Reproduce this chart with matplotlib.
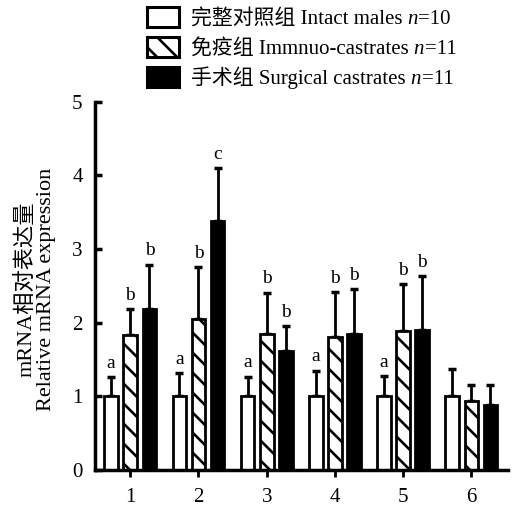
import matplotlib
matplotlib.use("Agg")
import matplotlib.pyplot as plt
import matplotlib.transforms as mtransforms
import numpy as np

DPI = 120
k = 100 / DPI  # keep pixel sizes as designed for 100 dpi

plt.rcParams['font.family'] = ['Liberation Serif', 'Noto Sans CJK SC']
plt.rcParams['hatch.linewidth'] = 1.9 * k

groups = ['1', '2', '3', '4', '5', '6']
series_names = ['完整对照组 Intact males',
                '免疫组 Immnuo-castrates',
                '手术组 Surgical castrates']
series_n = ['=10', '=11', '=11']
ylabel_lines = ['mRNA相对表达量', 'Relative mRNA expression']
intact = [1.0, 1.0, 1.0, 1.0, 1.0, 1.0]
intact_err = [0.26, 0.32, 0.27, 0.35, 0.28, 0.37]
immuno = [1.83, 2.05, 1.85, 1.80, 1.89, 0.94]
immuno_err = [0.35, 0.70, 0.56, 0.62, 0.63, 0.22]
surgical = [2.19, 3.38, 1.62, 1.85, 1.90, 0.89]
surgical_err = [0.60, 0.72, 0.34, 0.61, 0.73, 0.27]
letters_intact = ['a', 'a', 'a', 'a', 'a', '']
letters_immuno = ['b', 'b', 'b', 'b', 'b', '']
letters_surgical = ['b', 'c', 'b', 'b', 'b', '']

W, H = 517, 506
fig = plt.figure(figsize=(W / DPI, H / DPI), dpi=DPI)
ax = fig.add_axes([0.184, 0.071, 0.799, 0.728])

x = np.arange(1, len(groups) + 1)
w = 0.20
off = 0.28
styles = [dict(color='white', hatch=None),
          dict(color='white', hatch='\\\\'),
          dict(color='black', hatch=None)]
data = [(intact, intact_err, letters_intact),
        (immuno, immuno_err, letters_immuno),
        (surgical, surgical_err, letters_surgical)]
handles = []
for i, ((vals, errs, lets), st, name) in enumerate(zip(data, styles, series_names)):
    xs = x + (i - 1) * off
    b = ax.bar(xs, vals, width=w, color=st['color'], edgecolor='black',
               linewidth=2.0 * k, hatch=st['hatch'], label=name, zorder=2)
    handles.append(b)
    ax.errorbar(xs, vals, yerr=[np.zeros(len(errs)), errs], fmt='none',
                ecolor='black', elinewidth=2 * k, capsize=3 * k, capthick=2.5 * k,
                zorder=1)
    for xi, v, e, t in zip(xs, vals, errs, lets):
        if t:
            ax.text(xi, v + e + 0.07, t, ha='center', va='bottom', fontsize=14 * k)

ax.set_xlim(0.485, 6.54)
ax.set_ylim(0, 5)
ax.set_xticks(x)
ax.set_xticklabels(groups)
ax.set_yticks([0, 1, 2, 3, 4, 5])
for s in ['top', 'right']:
    ax.spines[s].set_visible(False)
for s in ['left', 'bottom']:
    ax.spines[s].set_linewidth(2.5 * k)
ax.tick_params(axis='y', direction='in', length=5 * k, width=2.5 * k,
               labelsize=15 * k, pad=9 * k)
ax.tick_params(axis='x', direction='out', length=5 * k, width=2 * k,
               labelsize=15 * k, pad=8 * k)

ident = mtransforms.IdentityTransform()
ycen = H - 289
fig.text(27, ycen, ylabel_lines[0], rotation=90, fontsize=16 * k, ha='center',
         va='center', transform=ident)
fig.text(47, ycen, ylabel_lines[1], rotation=90, fontsize=16 * k, ha='center',
         va='center', transform=ident)

fs = 15 * k
leg = fig.legend(handles=handles, labels=series_names, loc='upper left',
                 bbox_to_anchor=(147 / W, 1 - 7 / H), frameon=False, fontsize=fs,
                 handlelength=1.55, handleheight=1.1, labelspacing=0.36,
                 handletextpad=0.55, borderpad=0, borderaxespad=0)
for p in leg.get_patches():
    p.set_linewidth(2.2 * k)

fig.canvas.draw()
renderer = fig.canvas.get_renderer()
space = 0.25 * fs * DPI / 72
for t, nstr in zip(leg.get_texts(), series_n):
    bb = t.get_window_extent(renderer)
    tn = fig.text(bb.x1 + space, bb.y0, 'n', style='italic', fontsize=fs,
                  va='bottom', ha='left', transform=ident)
    bbn = tn.get_window_extent(renderer)
    fig.text(bbn.x1 + 0.5, bb.y0, nstr, fontsize=fs, va='bottom', ha='left',
             transform=ident)

fig.savefig('out.png', dpi=DPI)
